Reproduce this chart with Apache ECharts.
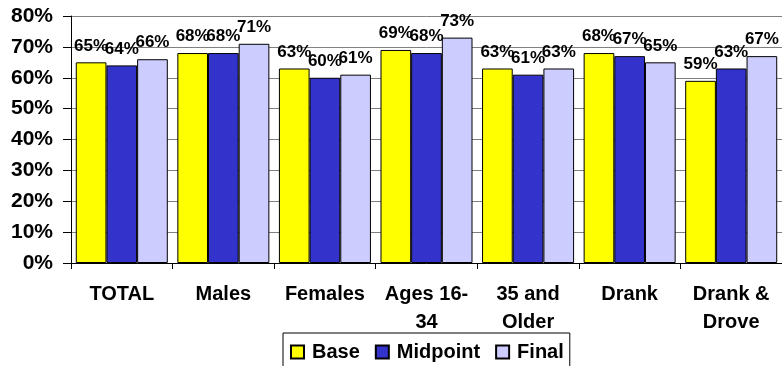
<!DOCTYPE html>
<html>
<head>
<meta charset="utf-8">
<script src="https://cdn.jsdelivr.net/npm/echarts@6/dist/echarts.min.js"></script>
<style>
  html, body { margin: 0; padding: 0; background: #fff; }
  #chart { width: 782px; height: 366px; }
</style>
</head>
<body>
<div id="chart"></div>
<script>
// Survey groups along the x axis
var categories = ['TOTAL', 'Males', 'Females', 'Ages 16-\n34', '35 and\nOlder', 'Drank', 'Drank &\nDrove'];
// Percentages per wave
var baseValues = [65, 68, 63, 69, 63, 68, 59];
var midpointValues = [64, 68, 60, 68, 61, 67, 63];
var finalValues = [66, 71, 61, 73, 63, 65, 67];
// Y axis range (percent)
var yMin = 0, yMax = 80, yStep = 10;

var FONT = '"Liberation Sans", Arial, sans-serif';

function barSeries(name, data, color) {
  return {
    name: name,
    type: 'bar',
    data: data,
    barGap: '0%',
    barCategoryGap: '9.4%',
    itemStyle: { color: color, borderColor: '#000', borderWidth: 1 },
    label: {
      show: true,
      position: 'top',
      distance: 8,
      formatter: '{c}%',
      color: '#000',
      fontFamily: FONT,
      fontWeight: 'bold',
      fontSize: 17
    }
  };
}

var chart = echarts.init(document.getElementById('chart'), null, { renderer: 'canvas' });
chart.setOption({
  animation: false,
  backgroundColor: '#fff',
  grid: { left: 71, top: 16, width: 719, height: 247, containLabel: false },
  legend: {
    left: 283,
    top: 333,
    padding: [9, 6, 12, 7],
    borderColor: '#000',
    borderWidth: 1,
    itemWidth: 13,
    itemHeight: 13,
    itemGap: 15,
    icon: 'rect',
    textStyle: { fontFamily: FONT, fontWeight: 'bold', fontSize: 20, color: '#000', padding: [0, 0, 0, 3] },
    data: ['Base', 'Midpoint', 'Final']
  },
  xAxis: {
    type: 'category',
    data: categories,
    axisLine: { lineStyle: { color: '#000', width: 1 } },
    axisTick: { show: true, length: 6, lineStyle: { color: '#000' } },
    axisLabel: {
      interval: 0,
      margin: 17,
      color: '#000',
      fontFamily: FONT,
      fontWeight: 'bold',
      fontSize: 20,
      lineHeight: 28
    }
  },
  yAxis: {
    type: 'value',
    min: yMin,
    max: yMax,
    interval: yStep,
    axisLine: { show: true, lineStyle: { color: '#000', width: 1 } },
    axisTick: { show: true, length: 8, lineStyle: { color: '#000' } },
    splitLine: { show: true, lineStyle: { color: '#808080', width: 1 } },
    axisLabel: {
      formatter: '{value}%',
      margin: 18,
      color: '#000',
      fontFamily: FONT,
      fontWeight: 'bold',
      fontSize: 21
    }
  },
  series: [
    barSeries('Base', baseValues, '#FFFF00'),
    barSeries('Midpoint', midpointValues, '#3333CC'),
    barSeries('Final', finalValues, '#CCCCFF')
  ]
});
</script>
</body>
</html>
